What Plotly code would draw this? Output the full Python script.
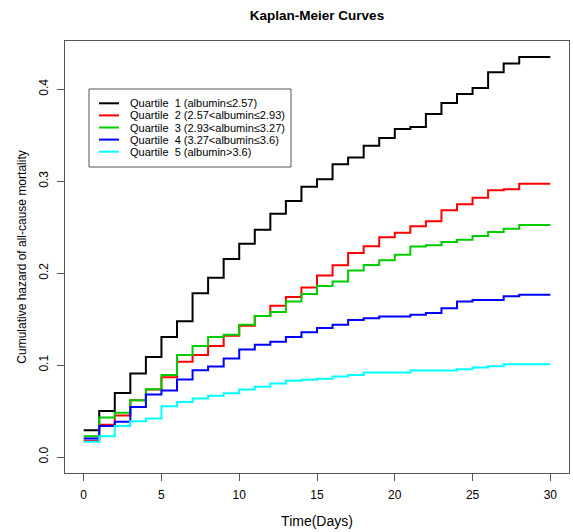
import plotly.graph_objects as go

# ---- data ----
days = list(range(29)) + [30]

q1 = [0.029, 0.050, 0.0697, 0.0908, 0.1087, 0.1304, 0.1475, 0.178, 0.195, 0.2154,
      0.232, 0.247, 0.2644, 0.2785, 0.294, 0.302, 0.3185, 0.3257, 0.3385, 0.3468,
      0.3566, 0.3588, 0.373, 0.385, 0.3948, 0.4013, 0.4183, 0.4278, 0.435]
q2 = [0.0176, 0.035, 0.0452, 0.0618, 0.0735, 0.0868, 0.1035, 0.111, 0.1206, 0.1318,
      0.1427, 0.1533, 0.1645, 0.174, 0.1843, 0.1975, 0.2085, 0.2218, 0.2293, 0.239,
      0.244, 0.251, 0.2565, 0.2684, 0.2749, 0.2818, 0.2902, 0.2913, 0.2972]
q3 = [0.0227, 0.0429, 0.0482, 0.0618, 0.0737, 0.0892, 0.111, 0.1206, 0.1304, 0.1329,
      0.1438, 0.1533, 0.1576, 0.1692, 0.1772, 0.186, 0.1908, 0.2028, 0.2087, 0.214,
      0.22, 0.229, 0.2302, 0.2339, 0.2362, 0.2404, 0.2446, 0.2482, 0.2522]
q4 = [0.020, 0.0338, 0.0383, 0.0543, 0.068, 0.0723, 0.0843, 0.0944, 0.0984, 0.1072,
      0.117, 0.122, 0.1253, 0.1304, 0.1356, 0.1404, 0.1438, 0.1491, 0.1508, 0.1528,
      0.1528, 0.1548, 0.1567, 0.1618, 0.1692, 0.1707, 0.1707, 0.1747, 0.1765]
q5 = [0.0165, 0.0227, 0.0338, 0.0389, 0.0418, 0.0552, 0.0598, 0.0636, 0.0666, 0.0692,
      0.0734, 0.0763, 0.080, 0.0828, 0.0840, 0.085, 0.0876, 0.0893, 0.0919, 0.0919,
      0.0919, 0.0942, 0.0942, 0.0942, 0.0955, 0.0974, 0.0988, 0.101, 0.101]

labels = [
    "Quartile\u00a0 1 (albumin\u22642.57)",
    "Quartile\u00a0 2 (2.57<albumin\u22642.93)",
    "Quartile\u00a0 3 (2.93<albumin\u22643.27)",
    "Quartile\u00a0 4 (3.27<albumin\u22643.6)",
    "Quartile\u00a0 5 (albumin>3.6)",
]
colors = ["#000000", "#FF0000", "#00CD00", "#0000FF", "#00FFFF"]
series = [q1, q2, q3, q4, q5]

x_ticks = [0, 5, 10, 15, 20, 25, 30]
y_ticks = [0.0, 0.1, 0.2, 0.3, 0.4]

FONT = "Liberation Sans, Arial, sans-serif"
W, H = 573, 532
L, R, T, B = 65, 4, 41, 59
PW, PH = W - L - R, H - T - B


def px(x):
    return (x - L) / PW


def py(y):
    return 1 - (y - T) / PH


fig = go.Figure()
for vals, col, lab in zip(series, colors, labels):
    fig.add_trace(go.Scatter(
        x=days, y=vals + [vals[-1]], mode="lines", name=lab,
        line=dict(color=col, width=2, shape="hv"), showlegend=False,
    ))

# legend drawn manually (R style compact legend)
shapes = [dict(type="rect", xref="paper", yref="paper",
               x0=px(89), x1=px(291), y0=py(89), y1=py(167),
               line=dict(color="#555555", width=1), fillcolor="white")]
annotations = []
for i, (lab, col) in enumerate(zip(labels, colors)):
    yc = 103.3 + 12.1 * i
    shapes.append(dict(type="line", xref="paper", yref="paper",
                       x0=px(99), x1=px(119), y0=py(yc), y1=py(yc),
                       line=dict(color=col, width=2)))
    annotations.append(dict(text=lab, xref="paper", yref="paper",
                            x=px(128), y=py(yc), xanchor="left", yanchor="middle",
                            height=12, valign="middle",
                            showarrow=False, font=dict(size=11, color="#000")))

fig.update_layout(
    width=W, height=H,
    margin=dict(l=L, r=R, t=T, b=B),
    paper_bgcolor="white", plot_bgcolor="white",
    font=dict(family=FONT, size=12, color="#000"),
    title=dict(text="<b>Kaplan-Meier Curves</b>", x=(L + PW / 2) / W, xanchor="center",
               y=1 - 15 / H, yanchor="middle", font=dict(size=13.5)),
    shapes=shapes, annotations=annotations,
    xaxis=dict(range=[-1.2, 31.2], tickvals=x_ticks, ticks="outside", ticklen=7,
               tickcolor="#555555", showline=True, mirror=True, linecolor="#555555",
               linewidth=1, showgrid=False, zeroline=False, automargin=False,
               title=dict(text="Time(Days)", standoff=14), ticklabelstandoff=4),
    yaxis=dict(range=[-0.0174, 0.4524], tickvals=y_ticks, tickformat=".1f",
               ticks="outside", ticklen=7, tickcolor="#555555", tickangle=-90,
               showline=True, mirror=True, linecolor="#555555", linewidth=1,
               showgrid=False, zeroline=False, automargin=False,
               title=dict(text="Cumulative hazard of all-cause mortality", standoff=8,
                          font=dict(size=12)),
               ticklabelstandoff=4),
)

fig.write_html("out.html", config={"displayModeBar": False},
               post_script="document.body.style.margin='0';document.body.style.overflow='hidden';")
